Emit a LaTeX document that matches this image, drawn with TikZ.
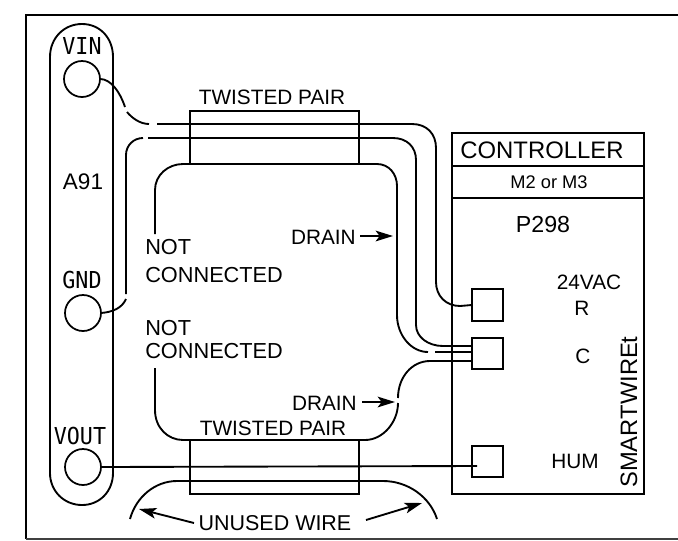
\documentclass[tikz,border=0pt]{standalone}
\usepackage{graphicx}
\usepackage{fontspec}
\setmainfont{Liberation Sans}
\newfontfamily\pinfont{DejaVu Sans Mono}
\usetikzlibrary{arrows.meta}
\newcommand{\pinname}[1]{\scalebox{0.93}[1]{\pinfont\fontsize{17.5}{18}\selectfont #1}}
\tikzset{
	wire/.style={line width=1.4pt},
	frameline/.style={line width=1.5pt},
	pin/.style={draw, circle, line width=1.3pt, minimum size=27pt, inner sep=0pt, outer sep=0pt},
	terminal/.style={draw, rectangle, line width=1.4pt, minimum size=23.5pt, inner sep=0pt, outer sep=0pt, fill=white},
	lab/.style={inner sep=0pt, font=\fontsize{15.6}{18}\selectfont},
	>={Stealth[length=13pt,width=8pt,inset=3pt]}
}
\begin{document}
\begin{tikzpicture}[x=0.75pt,y=-0.75pt]
			\useasboundingbox (0,0) rectangle (678,540);
			\draw [frameline] (678,15) -- (26,15) -- (26,539);
			\draw [line width=1pt,black!75] (26,539) -- (678,539);
			% A91 body
			\draw [wire] (50,57) .. controls (50,38) and (64,24) .. (82,24) .. controls (100,24) and (113,38) .. (113,57) -- (113,473) .. controls (113,491) and (100,505) .. (82,505) .. controls (64,505) and (50,491) .. (50,473) -- cycle;
			\node [pin] (vin) at (82,79) {};
			\node [pin] (gnd) at (83,313) {};
			\node [pin] (vout) at (83,467) {};
			\node [lab] (vinname) at (82,46) {\pinname{VIN}};
			\node [lab] (gndname) at (82,280) {\pinname{GND}};
			\node [lab] (voutname) at (80,436) {\pinname{VOUT}};
			\node [lab,font=\fontsize{16.9}{18}\selectfont] (aname) at (83,182) {A91};
			% controller
			\draw [wire] (452,133) rectangle (644,494);
			\draw [wire] (452,166) -- (644,166) (452,198) -- (644,198);
			\node [lab,font=\fontsize{17.9}{18}\selectfont] (ctrl) at (542,150) {CONTROLLER};
			\node [lab,font=\fontsize{13.7}{18}\selectfont] (model) at (549,182) {M2 or M3};
			\node [lab,font=\fontsize{17.4}{18}\selectfont] (part) at (543,225) {P298};
			\node [lab] (volt) at (589,282) {24VAC};
			\node [lab] (rname) at (582,308) {R};
			\node [lab] (cname) at (583,356) {C};
			\node [lab] (humname) at (575,461) {HUM};
			\node [lab,rotate=90,font=\fontsize{17.8}{18}\selectfont] (smart) at (629,412) {SMARTWIREt};
			\node [terminal] (termr) at (487.5,305) {};
			\node [terminal] (termc) at (487.5,353.5) {};
			\node [terminal] (termh) at (487.5,461.5) {};
			% wires
			\draw [wire] (vin.east) .. controls (111,79) and (120,92) .. (125,107);
			\draw [wire] (127,112) .. controls (132,118) and (140,124) .. (149,124);
			\draw [wire] (157,124) -- (412,124) .. controls (427,124) and (436,134) .. (436,148) -- (436,282) .. controls (436,296) and (446,306) .. (460,306) -- (termr.west);
			\draw [wire] (gnd.east) .. controls (113,312) and (122,308) .. (126,299);
			\draw [wire] (126,294) -- (126,155) .. controls (126,145) and (134,138) .. (143,138);
			\draw [wire] (148,138) -- (393,138) .. controls (407,138) and (416,147) .. (416,160) -- (416,325) .. controls (416,337) and (428,346) .. (443,346) -- (termc.west |- 0,346);
			\draw [wire] (155,234) -- (155,190) .. controls (155,175) and (168,164) .. (183,164) -- (377,164) .. controls (389,164) and (397,174) .. (397,186) -- (397,315) .. controls (397,335) and (411,352) .. (428,352);
			\draw [wire] (435,352) -- (termc.west |- 0,352);
			\draw [wire] (155,368) -- (155,410) .. controls (155,428) and (168,440) .. (183,440) -- (365,440) .. controls (383,440) and (398,422) .. (398,403);
			\draw [wire] (398,398) .. controls (398,377) and (412,361) .. (430,361) -- (termc.west |- 0,361);
			\draw [wire] (vout.east) -- (477,466);
			\draw [wire] (130,519) .. controls (136,497) and (155,481) .. (177,481) -- (383,481) .. controls (408,481) and (430,497) .. (437,519);
			% twisted pairs
			\draw [wire] (190,164) -- (190,111) -- (359,111) -- (359,164);
			\draw [wire] (190,440) rectangle (359,494);
			\node [lab] (pairtop) at (272,97) {TWISTED PAIR};
			\node [lab] (pairbot) at (273,428) {TWISTED PAIR};
			\node [lab,font=\fontsize{16.3}{18}\selectfont,anchor=west] (nota) at (145,247) {NOT};
			\node [lab,font=\fontsize{16.3}{18}\selectfont,anchor=west] (cona) at (145,275) {CONNECTED};
			\node [lab,font=\fontsize{16.3}{18}\selectfont,anchor=west] (notb) at (145,328) {NOT};
			\node [lab,font=\fontsize{16.3}{18}\selectfont,anchor=west] (conb) at (145,351) {CONNECTED};
			\node [lab,anchor=east] (draina) at (356,237) {DRAIN};
			\node [lab,anchor=east] (drainb) at (357,403) {DRAIN};
			\node [lab,font=\fontsize{16.1}{18}\selectfont] (unused) at (275,523) {UNUSED WIRE};
			\draw [wire,->] (360,236) -- (393,236);
			\draw [wire,->] (362,402) -- (395,402);
			\draw [wire,->] (194,523) -- (139,509);
			\draw [wire,->] (366,520) -- (422,503);
			\end{tikzpicture}
\end{document}
